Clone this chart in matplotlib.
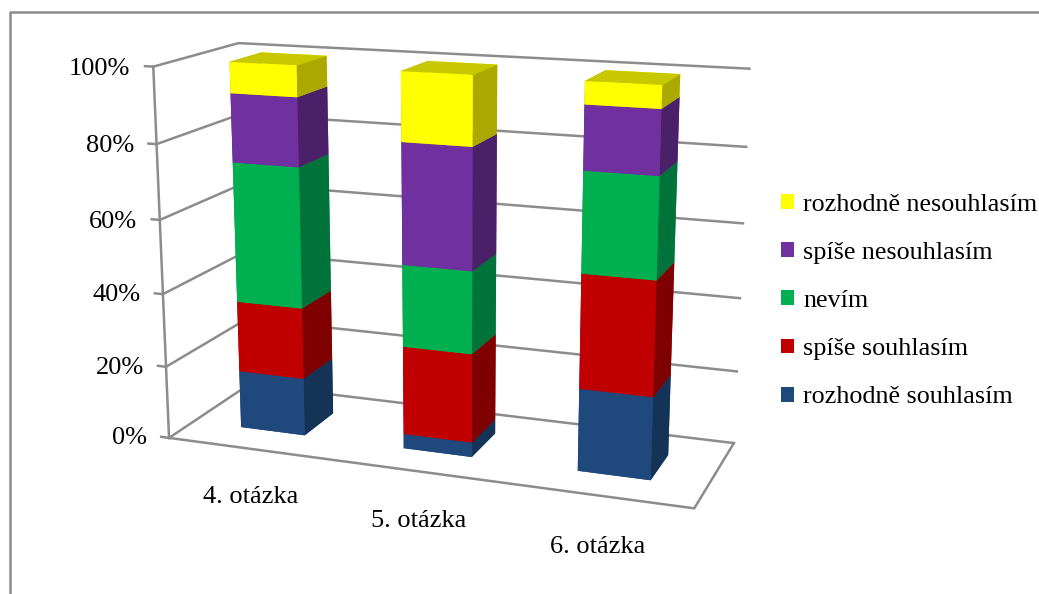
import matplotlib
matplotlib.use('Agg')
import matplotlib.pyplot as plt
from matplotlib.lines import Line2D
from matplotlib.patches import Patch

W, H = 1039, 594

categories = ['4. otázka', '5. otázka', '6. otázka']
series = ['rozhodně souhlasím', 'spíše souhlasím', 'nevím', 'spíše nesouhlasím', 'rozhodně nesouhlasím']
souhlas = [16, 4, 22]
spise_souhlas = [19.5, 24, 30]
nevim = [38, 22, 26]
spise_nesouhlas = [18.3, 32, 16.3]
nesouhlas = [8.2, 18, 5.7]
values = [souhlas, spise_souhlas, nevim, spise_nesouhlas, nesouhlas]
ticks = [0, 20, 40, 60, 80, 100]

front = ['#1F497D', '#C00000', '#00B050', '#7030A0', '#FFFF00']
side = ['#153257', '#7E0000', '#00733A', '#4A2068', '#ABA800']
top = ['#1F497D', '#C00000', '#00B050', '#7030A0', '#C8C800']
GRAY = '#8C8C8C'

plt.rcParams['font.family'] = ['Liberation Serif', 'DejaVu Sans']

fig = plt.figure(figsize=(W / 100, H / 100), dpi=100)
ax = fig.add_axes([0, 0, 1, 1], projection='3d', computed_zorder=False)
ax.set_xlim(0, 3)
ax.set_ylim(0, 1)
ax.set_zlim(0, 100)
ax.set_axis_off()

# camera fitted against the corners of the walls and bars
ax.view_init(14.477, -69.853, 0.041)
ax.set_proj_type('persp', focal_length=0.488)
ax.set_box_aspect((1.43, 0.479, 1))

# place the 3d axes so that one view unit is 3653.6 px
s, tx, ty = 3653.6, 450.1, 259.1
vx0, vx1 = ax.viewLim.intervalx
vy0, vy1 = ax.viewLim.intervaly
ax.set_position([(tx + s * vx0) / W, (H - ty + s * vy0) / H, s * (vx1 - vx0) / W, s * (vy1 - vy0) / H])
ax.set_anchor('SW')

bar_w, y0, y1 = 0.399, 0.298, 0.693

# walls
for z in ticks:
    ax.plot([0, 0, 3], [0, 1, 1], [z, z, z], color=GRAY, lw=1.8, zorder=1)
    ax.plot([-0.05, 0], [0, 0], [z, z], color=GRAY, lw=1.8, zorder=1)
    ax.text(-0.14, 0, z - 1, f'{z}%', ha='right', va='center', fontsize=19, zorder=5)
ax.plot([0, 0], [0, 0], [0, 100], color=GRAY, lw=1.8, zorder=1)
ax.plot([0, 3, 3], [0, 0, 1], [0, 0, 0], color=GRAY, lw=1.8, zorder=1)

# stacked bars
for i, cat in enumerate(categories):
    base = 0
    for k in range(len(series)):
        colors = [top[k], top[k], front[k], front[k], side[k], side[k]]
        ax.bar3d(i + .5 - bar_w / 2, y0, base, bar_w, y1 - y0, values[k][i],
                 color=colors, shade=False, zorder=2 + k * .1, linewidth=0)
        base += values[k][i]
    ax.text(i + .5, 0, -13.7, cat, ha='center', va='center', fontsize=19, zorder=5)

handles = [Patch(facecolor=front[k], label=series[k]) for k in range(len(series) - 1, -1, -1)]
fig.legend(handles=handles, loc='upper left', bbox_to_anchor=(760 / W, 1 - 173 / H), frameon=False, fontsize=18.8,
           handlelength=.5, handleheight=.5, labelspacing=1.0, handletextpad=.36, borderpad=.3)

fig.add_artist(Line2D([10 / W, 10 / W, 1], [0, 1 - 12 / H, 1 - 12 / H], color=GRAY, lw=1.8))

fig.savefig('out.png', dpi=100)
